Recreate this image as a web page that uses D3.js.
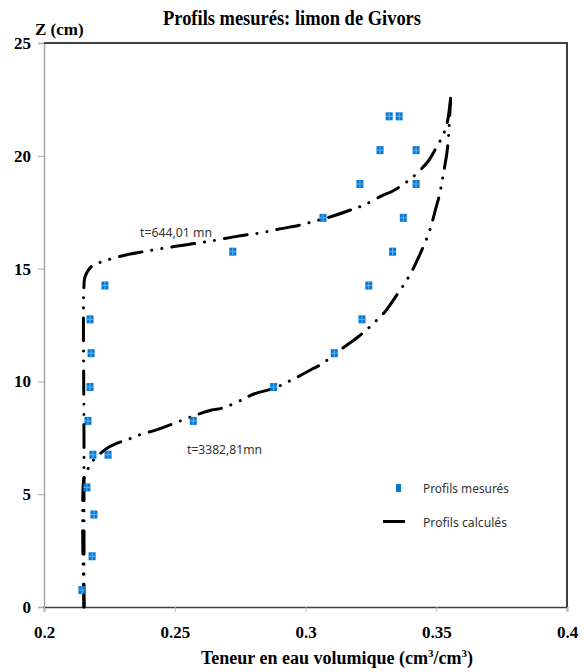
<!DOCTYPE html>
<html>
<head>
<meta charset="utf-8">
<script src="https://cdn.jsdelivr.net/npm/d3@7"></script>
<style>
  body { margin: 0; background: #fff; }
  svg { display: block; }
  .tick text { font-family: "Liberation Serif", "Times New Roman", serif; font-weight: bold; font-size: 17px; fill: #000; }
</style>
</head>
<body>
<svg id="chart" width="584" height="672"></svg>
<script>
// measured profile points (theta, z)
const measTheta = [0.2145, 0.2184, 0.2191, 0.2164, 0.2187, 0.2245, 0.2168, 0.2176, 0.2180, 0.2176, 0.2233,
  0.2722, 0.3067, 0.3208, 0.3285, 0.3320, 0.3358, 0.3423, 0.3423, 0.3374, 0.3333, 0.3242, 0.3216, 0.3110, 0.2878, 0.2571];
const measZ = [0.75, 2.25, 4.1, 5.3, 6.75, 6.75, 8.25, 9.75, 11.25, 12.75, 14.25,
  15.75, 17.25, 18.75, 20.25, 21.75, 21.75, 20.25, 18.75, 17.25, 15.75, 14.25, 12.75, 11.25, 9.75, 8.25];

// calculated profile t=644,01 mn
const calc1Theta = [0.2153, 0.2153, 0.2153, 0.2157, 0.2182, 0.2221, 0.2297, 0.2379, 0.2493, 0.2622, 0.2742,
  0.2826, 0.2902, 0.2979, 0.3029, 0.3105, 0.3182, 0.3224, 0.3291, 0.3334, 0.3372, 0.3410, 0.3470, 0.3495, 0.3521, 0.3540, 0.3555];
const calc1Z = [0, 7, 14.3, 14.64, 15.1, 15.3, 15.56, 15.75, 15.97, 16.19, 16.44,
  16.58, 16.76, 16.93, 17.08, 17.33, 17.64, 17.82, 18.22, 18.44, 18.72, 19.05, 19.77, 20.26, 20.8, 21.37, 22.55];

// calculated profile t=3382,81 mn
const calc2Theta = [0.2153, 0.2153, 0.2161, 0.2179, 0.2240, 0.2280, 0.2322, 0.2363, 0.2430, 0.2482, 0.2565, 0.2641,
  0.2680, 0.2756, 0.2800, 0.2877, 0.2947, 0.3024, 0.3062, 0.3132, 0.3202, 0.3236, 0.3270, 0.3304, 0.3355, 0.3383,
  0.3408, 0.3431, 0.3470, 0.3485, 0.3499, 0.3512, 0.3531, 0.3540, 0.3546, 0.3555];
const calc2Z = [0, 5.72, 5.9, 6.37, 7.03, 7.26, 7.43, 7.62, 7.85, 8.07, 8.44, 8.73,
  8.81, 9.18, 9.43, 9.69, 10.06, 10.54, 10.77, 11.39, 11.98, 12.31, 12.69, 13.09, 13.93, 14.41,
  14.91, 15.46, 16.52, 17.08, 17.7, 18.26, 19.45, 20.07, 20.7, 22.55];

const xTicks = [0.2, 0.25, 0.3, 0.35, 0.4];
const yTicks = [0, 5, 10, 15, 20, 25];

const margin = {top: 43, right: 17, bottom: 65, left: 44};
const W = 584, H = 672;
const width = W - margin.left - margin.right;
const height = H - margin.top - margin.bottom;

const svg = d3.select("#chart");
const g = svg.append("g").attr("transform", "translate(" + margin.left + "," + margin.top + ")");

const x = d3.scaleLinear().domain([0.2, 0.4]).range([0, width]);
const y = d3.scaleLinear().domain([0, 25]).range([height, 0]);

// y axis (gray)
const yAxis = g.append("g")
  .call(d3.axisLeft(y).tickValues(yTicks).tickSize(6).tickPadding(7).tickFormat(d3.format("d")));
yAxis.select(".domain").attr("stroke", "#a6a6a6").attr("stroke-width", 1.5);
yAxis.selectAll(".tick line").attr("stroke", "#a6a6a6");

// x axis
const xAxis = g.append("g")
  .attr("transform", "translate(0," + height + ")")
  .call(d3.axisBottom(x).tickValues(xTicks).tickSize(5).tickPadding(14).tickFormat(d => String(d)));
xAxis.select(".domain").attr("stroke", "#404040").attr("stroke-width", 1.5);
xAxis.selectAll(".tick line").attr("stroke", "#bfbfbf");

// top / right border
g.append("path")
  .attr("d", "M0,0H" + width + "V" + height)
  .attr("fill", "none")
  .attr("stroke", "#404040")
  .attr("stroke-width", 2);

// calculated curves
const line = d3.line()
  .x(d => x(d[0]))
  .y(d => y(d[1]))
  .curve(d3.curveCatmullRom.alpha(0.5));

[[calc1Theta, calc1Z], [calc2Theta, calc2Z]].forEach(function(c) {
  g.append("path")
    .datum(d3.zip(c[0], c[1]))
    .attr("d", line)
    .attr("fill", "none")
    .attr("stroke", "#000")
    .attr("stroke-width", 3)
    .attr("stroke-linecap", "round")
    .attr("stroke-dasharray", "23,10,0.1,10,0.1,10");
});

// measured markers
function marker(sel, w, h, grid) {
  sel.append("rect")
    .attr("x", -w / 2).attr("y", -h / 2)
    .attr("width", w).attr("height", h)
    .attr("fill", "#0a78d2");
  if (grid) {
    sel.append("path")
      .attr("d", "M0," + (-h / 2) + "V" + (h / 2) + "M" + (-w / 2) + ",0H" + (w / 2))
      .attr("stroke", "#6cb8ee")
      .attr("stroke-width", 0.9);
  }
}

g.selectAll(".pt")
  .data(d3.zip(measTheta, measZ))
  .enter().append("g")
    .attr("class", "pt")
    .attr("transform", d => "translate(" + x(d[0]) + "," + y(d[1]) + ")")
    .each(function() { marker(d3.select(this), 7, 8, true); });

// annotations
const sans = "'Noto Sans', 'Open Sans', sans-serif";
g.append("text")
  .attr("x", x(0.2) + 96).attr("y", 237 - margin.top)
  .attr("font-family", sans).attr("font-size", 13).attr("fill", "#333")
  .attr("textLength", 72).attr("lengthAdjust", "spacingAndGlyphs")
  .text("t=644,01 mn");
g.append("text")
  .attr("x", 187 - margin.left).attr("y", 454 - margin.top)
  .attr("font-family", sans).attr("font-size", 13).attr("fill", "#333")
  .attr("textLength", 75).attr("lengthAdjust", "spacingAndGlyphs")
  .text("t=3382,81mn");

// legend
const legend = svg.append("g").attr("font-family", sans).attr("font-size", 13).attr("fill", "#333");
const lg1 = legend.append("g").attr("transform", "translate(398.5,488)");
marker(lg1, 5, 8, false);
legend.append("text").attr("x", 423).attr("y", 493)
  .attr("textLength", 86).attr("lengthAdjust", "spacingAndGlyphs").text("Profils mesurés");
legend.append("line")
  .attr("x1", 383).attr("x2", 405).attr("y1", 521.5).attr("y2", 521.5)
  .attr("stroke", "#000").attr("stroke-width", 3);
legend.append("text").attr("x", 423).attr("y", 527)
  .attr("textLength", 84).attr("lengthAdjust", "spacingAndGlyphs").text("Profils calculés");

// titles
const serif = "'Liberation Serif', 'Times New Roman', serif";
svg.append("text")
  .attr("x", 163).attr("y", 25)
  .attr("font-family", serif).attr("font-weight", "bold").attr("font-size", 20)
  .attr("textLength", 258).attr("lengthAdjust", "spacingAndGlyphs")
  .text("Profils mesurés: limon de Givors");
svg.append("text")
  .attr("x", 35).attr("y", 35)
  .attr("font-family", serif).attr("font-weight", "bold").attr("font-size", 17)
  .text("Z (cm)");
const xl = svg.append("text")
  .attr("x", 201).attr("y", 664)
  .attr("font-family", serif).attr("font-weight", "bold").attr("font-size", 18)
  .attr("textLength", 272).attr("lengthAdjust", "spacingAndGlyphs");
xl.append("tspan").text("Teneur en eau volumique (cm");
xl.append("tspan").attr("font-size", 11).attr("dy", -7).text("3");
xl.append("tspan").attr("dy", 7).text("/cm");
xl.append("tspan").attr("font-size", 11).attr("dy", -7).text("3");
xl.append("tspan").attr("dy", 7).text(")");
</script>
</body>
</html>
